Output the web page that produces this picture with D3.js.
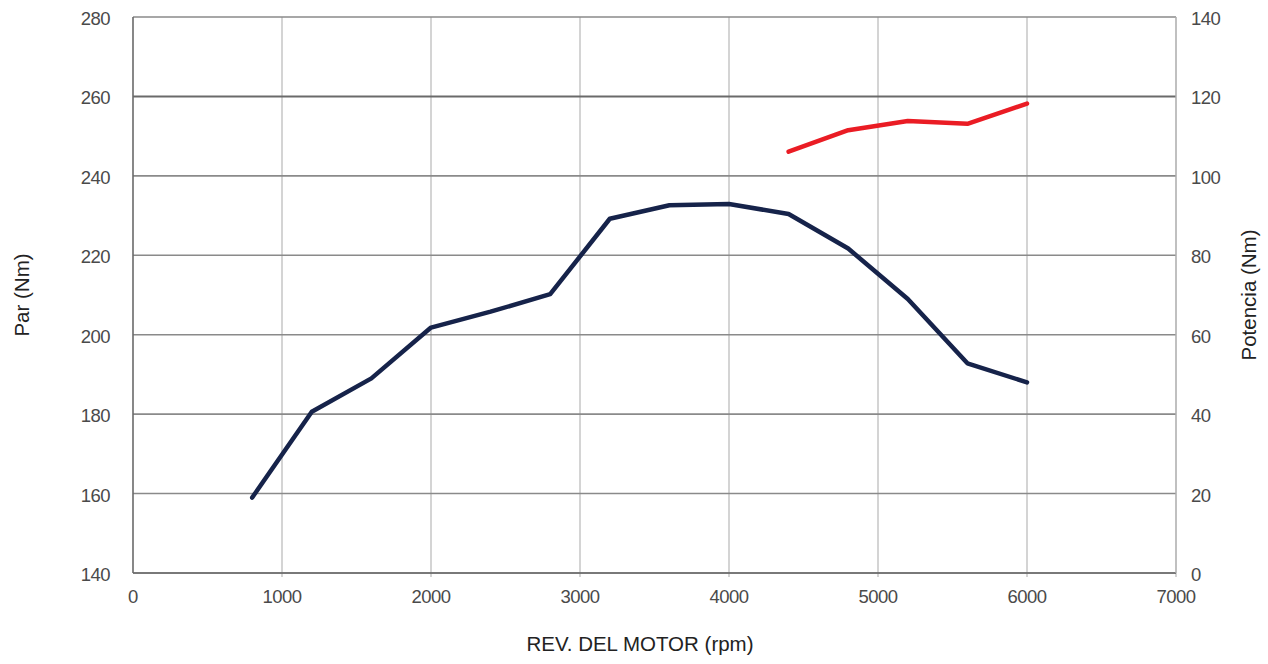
<!DOCTYPE html>
<html>
<head>
<meta charset="utf-8">
<script src="https://cdn.jsdelivr.net/npm/d3@7"></script>
<style>
  html, body { margin: 0; padding: 0; background: #fff; }
  svg { display: block; }
  text { font-family: "Liberation Sans", Arial, sans-serif; }
</style>
</head>
<body>
<svg id="chart" width="1268" height="664"></svg>
<script>
// Engine speed (rpm) for the torque curve and its values (Nm)
const torqueRpm = [800, 1200, 1600, 2000, 2400, 2800, 3200, 3600, 4000, 4400, 4800, 5200, 5600, 6000];
const torqueNm  = [159, 180.6, 189, 201.8, 205.8, 210.2, 229.2, 232.6, 232.9, 230.4, 221.7, 209, 192.8, 188];

// Engine speed (rpm) for the power curve and its values
const powerRpm = [4400, 4800, 5200, 5600, 6000];
const powerVal = [106.1, 111.5, 113.8, 113.1, 118.2];

// Tick values
const xTicks      = [0, 1000, 2000, 3000, 4000, 5000, 6000, 7000];
const leftTicks   = [140, 160, 180, 200, 220, 240, 260, 280];
const rightTicks  = [0, 20, 40, 60, 80, 100, 120, 140];

const svg = d3.select("#chart");
const m = { left: 133, right: 1176, top: 17, bottom: 573 };

const x  = d3.scaleLinear().domain([0, 7000]).range([m.left, m.right]);
const yL = d3.scaleLinear().domain([140, 280]).range([m.bottom, m.top]);
const yR = d3.scaleLinear().domain([0, 140]).range([m.bottom, m.top]);

// Vertical gridlines (light)
svg.append("g")
  .selectAll("line")
  .data(xTicks.slice(1))
  .join("line")
  .attr("x1", d => x(d)).attr("x2", d => x(d))
  .attr("y1", m.top).attr("y2", m.bottom + 4)
  .attr("stroke", "#bdbdbd").attr("stroke-width", 1.3);

// Horizontal gridlines (darker)
svg.append("g")
  .selectAll("line")
  .data(leftTicks)
  .join("line")
  .attr("x1", m.left).attr("x2", m.right)
  .attr("y1", d => yL(d)).attr("y2", d => yL(d))
  .attr("stroke", d => d === 260 ? "#6a6a6a" : "#8a8a8a")
  .attr("stroke-width", d => d === 260 ? 2 : 1.6);

// Axis frame
svg.append("line").attr("x1", m.left).attr("x2", m.left).attr("y1", m.top).attr("y2", m.bottom)
  .attr("stroke", "#6a6a6a").attr("stroke-width", 1.6);
svg.append("line").attr("x1", m.left).attr("x2", m.right).attr("y1", m.bottom).attr("y2", m.bottom)
  .attr("stroke", "#6a6a6a").attr("stroke-width", 1.6);
svg.append("line").attr("x1", m.right).attr("x2", m.right).attr("y1", m.top).attr("y2", m.bottom)
  .attr("stroke", "#b5b5b5").attr("stroke-width", 1.3);

// Tick labels
const labelColor = "#4a4a4a";
const tickSize = 18.5;
svg.append("g")
  .selectAll("text")
  .data(xTicks)
  .join("text")
  .attr("x", d => x(d)).attr("y", 603)
  .attr("text-anchor", "middle")
  .attr("font-size", tickSize).attr("fill", labelColor)
  .attr("letter-spacing", -0.5)
  .text(d => d);

svg.append("g")
  .selectAll("text")
  .data(leftTicks)
  .join("text")
  .attr("x", 110).attr("y", d => yL(d) + 8)
  .attr("text-anchor", "end")
  .attr("font-size", tickSize).attr("fill", labelColor)
  .attr("letter-spacing", -0.5)
  .text(d => d);

svg.append("g")
  .selectAll("text")
  .data(rightTicks)
  .join("text")
  .attr("x", 1191).attr("y", d => yR(d) + 8)
  .attr("text-anchor", "start")
  .attr("font-size", tickSize).attr("fill", labelColor)
  .attr("letter-spacing", -0.5)
  .text(d => d);

// Axis titles
const titleSize = 20.5;
svg.append("text")
  .attr("transform", "translate(29,295) rotate(-90)")
  .attr("text-anchor", "middle")
  .attr("font-size", titleSize).attr("fill", "#222")
  .text("Par (Nm)");

svg.append("text")
  .attr("transform", "translate(1256,295) rotate(-90)")
  .attr("text-anchor", "middle")
  .attr("font-size", titleSize).attr("fill", "#222")
  .text("Potencia (Nm)");

svg.append("text")
  .attr("x", 640).attr("y", 651)
  .attr("text-anchor", "middle")
  .attr("font-size", titleSize).attr("fill", "#222")
  .text("REV. DEL MOTOR (rpm)");

// Torque curve
const torqueLine = d3.line().x(d => x(d[0])).y(d => yL(d[1]));
svg.append("path")
  .datum(d3.zip(torqueRpm, torqueNm))
  .attr("d", torqueLine)
  .attr("fill", "none")
  .attr("stroke", "#16234a")
  .attr("stroke-width", 4.5)
  .attr("stroke-linejoin", "round")
  .attr("stroke-linecap", "round");

// Power curve
const powerLine = d3.line().x(d => x(d[0])).y(d => yR(d[1]));
svg.append("path")
  .datum(d3.zip(powerRpm, powerVal))
  .attr("d", powerLine)
  .attr("fill", "none")
  .attr("stroke", "#ea1c24")
  .attr("stroke-width", 4.5)
  .attr("stroke-linejoin", "round")
  .attr("stroke-linecap", "round");
</script>
</body>
</html>
